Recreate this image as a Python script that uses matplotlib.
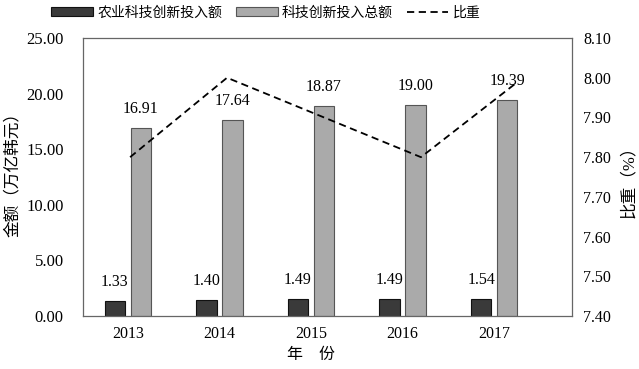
import numpy as np
import matplotlib
matplotlib.use("Agg")
import matplotlib.pyplot as plt

plt.rcParams['font.family'] = ['Liberation Serif', 'Noto Sans CJK SC']
plt.rcParams['axes.unicode_minus'] = False

years = ['2013', '2014', '2015', '2016', '2017']
agri_invest = [1.33, 1.40, 1.49, 1.49, 1.54]
total_invest = [16.91, 17.64, 18.87, 19.00, 19.39]
share = [7.80, 8.00, 7.90, 7.80, 7.99]

x = np.arange(len(years))
w = 0.22
off = 0.142

fig = plt.figure(figsize=(6.39, 3.69), dpi=100)
rect = [0.130, 0.1436, 0.765, 0.7534]
ax = fig.add_axes(rect)

b1 = ax.bar(x - off, agri_invest, w, color='#3a3a3a', edgecolor='#111111', linewidth=0.8,
            label='农业科技创新投入额')
b2 = ax.bar(x + off, total_invest, w, color='#aaaaaa', edgecolor='#555555', linewidth=0.8,
            label='科技创新投入总额')

for bars, vals in [(b1, agri_invest), (b2, total_invest)]:
    for r, v in zip(bars, vals):
        ax.annotate(f'{v:.2f}', (r.get_x() + r.get_width() / 2, v), xytext=(0, 8),
                    textcoords='offset points', ha='center', va='bottom', fontsize=11.5)

ax.set_xlim(-0.49, 4.85)
ax.set_ylim(0, 25)
ax.set_yticks(np.arange(0, 25.1, 5))
ax.set_yticklabels([f'{v:.2f}' for v in np.arange(0, 25.1, 5)])
ax.set_xticks(x)
ax.set_xticklabels(years)
ax.tick_params(axis='y', length=0, pad=14, labelsize=12)
ax.tick_params(axis='x', length=0, pad=7, labelsize=11.5)
for s in ax.spines.values():
    s.set_color('#666666')
    s.set_linewidth(0.9)
ax.set_ylabel('金额（万亿韩元）', fontsize=12, va='center')
ax.yaxis.set_label_coords(-0.143, 0.525)
ax.set_xlabel('年    份', fontsize=11.5)
ax.xaxis.set_label_coords(0.466, -0.11)

# line on its own axes, right-hand scale
ax2 = fig.add_axes(rect, frameon=False)
ln, = ax2.plot(x, share, color='black', lw=1.3, linestyle=(0, (4, 2.5)), label='比重')
ax2.set_xlim(-0.485, 4.557)
ax2.set_ylim(7.40, 8.10)
ax2.set_yticks(np.arange(7.40, 8.101, 0.10))
ax2.set_yticklabels([f'{v:.2f}' for v in np.arange(7.40, 8.101, 0.10)])
ax2.xaxis.set_visible(False)
ax2.yaxis.tick_right()
ax2.yaxis.set_label_position('right')
ax2.tick_params(axis='y', length=0, pad=8, labelsize=11.5)
ax2.set_ylabel('比重（%）', fontsize=12, rotation=90, va='center')
ax2.yaxis.set_label_coords(1.117, 0.496)

fig.legend(handles=[b1, b2, ln], loc='center', bbox_to_anchor=(0.416, 0.965), ncol=3,
           frameon=False, fontsize=10, handlelength=3.0, handleheight=0.55,
           handletextpad=0.3, columnspacing=1.0)

fig.savefig('out.png', dpi=100)
